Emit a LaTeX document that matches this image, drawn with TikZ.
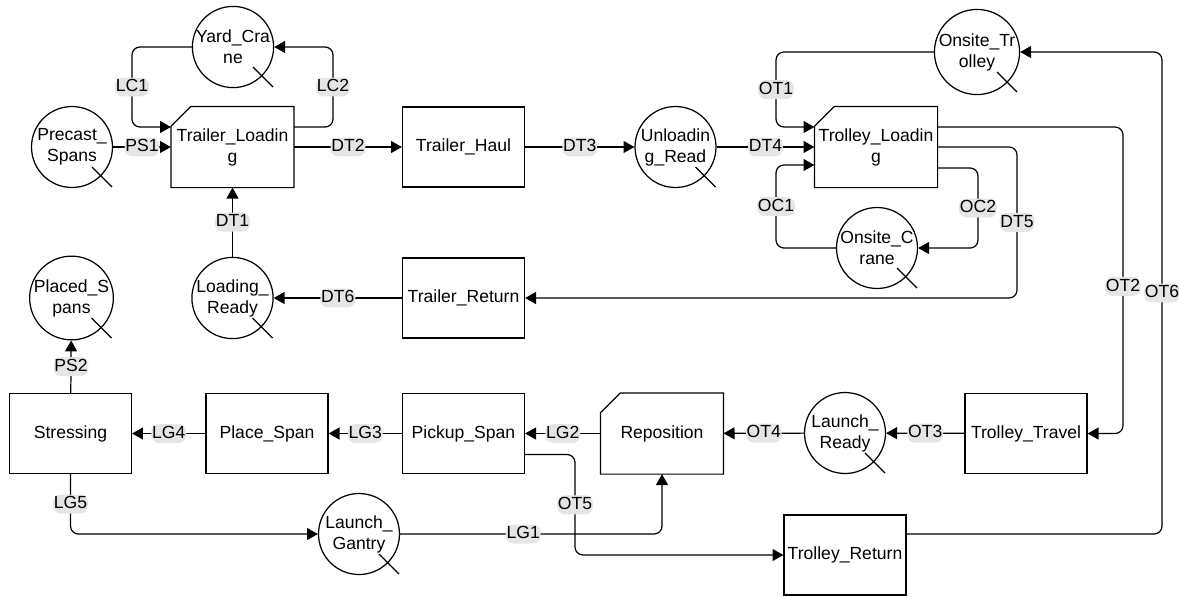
\documentclass[tikz,border=0pt]{standalone}
\usepackage{fontspec}
\setmainfont{Liberation Sans}
\usetikzlibrary{arrows.meta,calc}
\tikzset{
  txt/.style={font=\fontsize{10}{12}\selectfont},
  place/.style={circle, draw, line width=0.7pt, minimum size=1.62cm, inner sep=0pt, align=center, txt},
  activity/.style={rectangle, draw, line width=0.7pt, minimum width=2.44cm, minimum height=1.6cm, inner sep=0pt, align=center, txt},
  combi/.style={activity, draw=none},
  flow/.style={line width=0.7pt, rounded corners=4.5pt, -{Triangle[length=6.2pt,width=6.8pt]}},
  lbl/.style={fill=gray!20, inner xsep=0.5pt, inner ysep=0.5pt, text height=7.6pt, text depth=2.2pt, txt},
}
\begin{document}
\begin{tikzpicture}[x=0.02cm, y=-0.02cm]
  \useasboundingbox (0,0) rectangle (1179,596);

  % Loading side
  \node[place] (pspan) at (72,147) {Precast\_\\Spans};
  \node[place] (ycrane) at (233,47) {Yard\_Cra\\ne};
  \node[combi] (tload) at (232.5,147) {Trailer\_Loadin\\g};
  \node[activity] (thaul) at (463.5,147) {Trailer\_Haul};
  \node[place] (unld) at (675.5,147) {Unloadin\\g\_Read};
  \node[place] (lready) at (232.5,298) {Loading\_\\Ready};
  \node[activity] (tret) at (463.5,298) {Trailer\_Return};
  \node[place] (plspan) at (71.5,298) {Placed\_S\\pans};

  % Onsite side
  \node[combi] (trload) at (876,147) {Trolley\_Loadin\\g};
  \node[place] (otrol) at (977,52) {Onsite\_Tr\\olley};
  \node[place] (ocrane) at (877,248) {Onsite\_C\\rane};

  % Launching row
  \node[activity] (stress) at (70.5,433.5) {Stressing};
  \node[activity] (plcspan) at (267,433.5) {Place\_Span};
  \node[activity] (pkspan) at (463.5,433.5) {Pickup\_Span};
  \node[combi] (repos) at (662,433.5) {Reposition};
  \node[place] (lnready) at (845,433) {Launch\_\\Ready};
  \node[activity] (ttrav) at (1026,433.5) {Trolley\_Travel};
  \node[place] (lgant) at (359,534) {Launch\_\\Gantry};
  \node[activity] (trret) at (845,555) {Trolley\_Return};

  % cut corners and queue tails
  \foreach \n in {tload,trload,repos}
    \draw[line width=0.7pt] ($(\n.north west)+(0,20)$) -- ($(\n.north west)+(20,0)$) -- (\n.north east) -- (\n.south east) -- (\n.south west) -- cycle;
  \foreach \n in {pspan,ycrane,unld,lready,plspan,otrol,ocrane,lnready,lgant}
    \draw[line width=0.7pt] (\n.center) ++(20,20) -- ++(20,20);

  % Trailer cycle
  \draw[flow] (pspan) -- node[lbl]{PS1} (tload);
  \draw[flow] (ycrane.west) -- (132,47) -- node[lbl]{LC1} (132,127) -- ($(tload.west)+(0,-20)$);
  \draw[flow] ($(tload.east)+(0,-20)$) -- (333,127) -- node[lbl]{LC2} (333,47) -- (ycrane.east);
  \draw[flow] (tload) -- node[lbl]{DT2} (thaul);
  \draw[flow] (thaul) -- node[lbl]{DT3} (unld);
  \draw[flow] (unld) -- node[lbl]{DT4} (trload);
  \draw[flow] (trload.east) -- (1017,147) -- node[lbl]{DT5} (1017,298) -- (tret.east);
  \draw[flow] (tret) -- node[lbl]{DT6} (lready);
  \draw[flow] (lready) -- node[lbl]{DT1} (tload);

  % Trolley cycle
  \draw[flow] (otrol.west) -- (776,52) -- node[lbl]{OT1} (776,127) -- ($(trload.west)+(0,-20)$);
  \draw[flow] (ocrane.west) -- (776,248) -- node[lbl]{OC1} (776,165) -- ($(trload.west)+(0,18)$);
  \draw[flow] ($(trload.east)+(0,21)$) -- (978,168) -- node[lbl]{OC2} (978,248) -- (ocrane.east);
  \draw[flow] ($(trload.east)+(0,-20)$) -- (1123,127) -- node[lbl,pos=0.52]{OT2} (1123,433.5) -- (ttrav.east);
  \draw[flow] (ttrav) -- node[lbl]{OT3} (lnready);
  \draw[flow] (lnready) -- node[lbl]{OT4} (repos);
  \draw[flow] ($(pkspan.east)+(0,21)$) -- (575,454.5) -- node[lbl]{OT5} (575,555) -- (trret.west);
  \draw[flow] ($(trret.east)+(0,-21)$) -- (1162,534) -- node[lbl]{OT6} (1162,52) -- (otrol.east);

  % Gantry cycle
  \draw[flow] (repos) -- node[lbl]{LG2} (pkspan);
  \draw[flow] (pkspan) -- node[lbl]{LG3} (plcspan);
  \draw[flow] (plcspan) -- node[lbl]{LG4} (stress);
  \draw[flow] (stress) -- node[lbl]{PS2} (plspan);
  \draw[flow] (stress.south) -- node[lbl]{LG5} (70.5,534) -- (lgant.west);
  \draw[flow] (lgant.east) -- node[lbl,pos=0.47]{LG1} (662,534) -- (repos.south);
\end{tikzpicture}
\end{document}
